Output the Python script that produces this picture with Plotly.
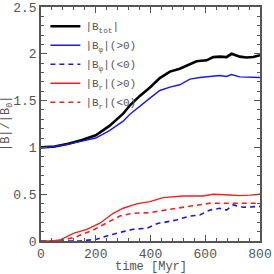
import plotly.graph_objects as go

t_tot = [0, 50, 100, 150, 200, 250, 300, 325, 361, 398, 434, 471, 507, 544, 568, 605, 629, 653, 678, 696, 726, 751, 775, 800]
b_tot = [1.0, 1.01, 1.04, 1.08, 1.13, 1.23, 1.36, 1.45, 1.55, 1.64, 1.74, 1.81, 1.84, 1.89, 1.92, 1.93, 1.965, 1.97, 1.965, 2.0, 1.97, 1.96, 1.965, 1.985]

t_phi_p = [0, 50, 100, 150, 200, 250, 300, 325, 361, 398, 434, 471, 507, 544, 580, 617, 653, 678, 696, 726, 763, 800]
b_phi_p = [1.0, 1.01, 1.035, 1.065, 1.10, 1.18, 1.28, 1.355, 1.444, 1.526, 1.608, 1.644, 1.669, 1.729, 1.747, 1.758, 1.768, 1.758, 1.779, 1.754, 1.75, 1.747]

t_phi_n = [0, 100, 142, 203, 252, 300, 337, 386, 428, 446, 495, 544, 580, 617, 653, 678, 702, 739, 800]
b_phi_n = [0.0, 0.0, 0.0, 0.018, 0.064, 0.10, 0.125, 0.136, 0.19, 0.196, 0.225, 0.267, 0.278, 0.331, 0.349, 0.331, 0.385, 0.36, 0.37]

t_r_p = [0, 40, 69, 118, 167, 215, 264, 300, 349, 398, 446, 519, 592, 629, 690, 726, 763, 800]
b_r_p = [0.0, 0.0, 0.01, 0.082, 0.125, 0.19, 0.296, 0.35, 0.396, 0.42, 0.463, 0.481, 0.481, 0.499, 0.492, 0.485, 0.49, 0.5]

t_r_n = [0, 50, 80, 130, 191, 240, 288, 337, 398, 471, 544, 617, 690, 800]
b_r_n = [0.0, 0.0, 0.01, 0.046, 0.118, 0.19, 0.267, 0.296, 0.303, 0.339, 0.367, 0.403, 0.403, 0.403]

names = ["|B<sub>tot</sub>|", "|B<sub>φ</sub>|(>0)", "|B<sub>φ</sub>|(<0)", "|B<sub>r</sub>|(>0)", "|B<sub>r</sub>|(<0)"]
x_title = "time [Myr]"
y_title = "|B|/|B<sub>0</sub>|"

FONT = "Liberation Mono, Courier New, monospace"
GRAY = "#555555"

fig = go.Figure()
fig.add_trace(go.Scatter(x=t_tot, y=b_tot, mode="lines", name=names[0],
                         line=dict(color="black", width=2.6)))
fig.add_trace(go.Scatter(x=t_phi_p, y=b_phi_p, mode="lines", name=names[1],
                         line=dict(color="#1a1adf", width=1.4)))
fig.add_trace(go.Scatter(x=t_phi_n, y=b_phi_n, mode="lines", name=names[2],
                         line=dict(color="#1a1adf", width=1.6, dash="5px,4px")))
fig.add_trace(go.Scatter(x=t_r_p, y=b_r_p, mode="lines", name=names[3],
                         line=dict(color="#ee2222", width=1.4)))
fig.add_trace(go.Scatter(x=t_r_n, y=b_r_n, mode="lines", name=names[4],
                         line=dict(color="#ee2222", width=1.6, dash="5px,4px")))

axis_common = dict(
    showgrid=False, zeroline=False, showline=True, linecolor=GRAY, linewidth=1.5,
    mirror="allticks", ticks="inside", ticklen=6, tickwidth=1, tickcolor=GRAY,
    tickfont=dict(family=FONT, size=13, color=GRAY), automargin=False,
)

fig.update_xaxes(range=[0, 800], tickvals=[0, 200, 400, 600, 800],
                 minor=dict(dtick=40, ticks="inside", ticklen=3, tickcolor=GRAY),
                 **axis_common)
fig.update_yaxes(range=[0, 2.5], tickvals=[0, 0.5, 1, 1.5, 2, 2.5], ticktext=["0", "0.5", "1", "1.5", "2", "2.5"],
                 minor=dict(dtick=0.1, ticks="inside", ticklen=3, tickcolor=GRAY),
                 **axis_common)

fig.add_annotation(text=x_title, xref="paper", yref="paper", x=0.5, y=-0.11,
                   xanchor="center", yanchor="middle", showarrow=False,
                   font=dict(family=FONT, size=12, color=GRAY))
fig.add_annotation(text=y_title, xref="paper", yref="paper", x=-0.155, y=0.5,
                   xanchor="center", yanchor="middle", textangle=-90, showarrow=False,
                   font=dict(family=FONT, size=12, color=GRAY))

fig.update_layout(
    width=274, height=274,
    margin=dict(l=41, r=14, t=7, b=33),
    paper_bgcolor="white", plot_bgcolor="white",
    showlegend=True,
    legend=dict(x=0.02, y=0.98, xanchor="left", yanchor="top", bgcolor="rgba(0,0,0,0)",
                font=dict(family=FONT, size=11, color=GRAY), itemwidth=30,
                tracegroupgap=0),
    font=dict(family=FONT, color=GRAY),
)

fig.write_html("out.html", config={"displayModeBar": False},
               post_script="document.body.style.margin='0px';document.body.style.padding='0px';")
